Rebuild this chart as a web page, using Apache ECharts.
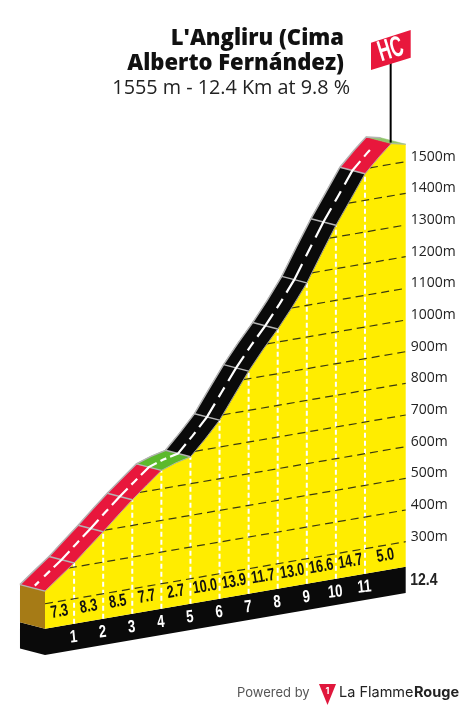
<!DOCTYPE html>
<html><head><meta charset="utf-8">
<style>html,body{margin:0;padding:0;background:#fff}#c{width:465px;height:710px}</style>
<script src="https://cdn.jsdelivr.net/npm/echarts@6/dist/echarts.min.js"></script>
</head><body><div id="c"></div>
<script>
const titleText = "L'Angliru (Cima\nAlberto Fernández)";
const subtitleText = "1555 m - 12.4 Km at 9.8 %";
const profileKm  = [0,0.5,1,1.5,2,2.5,3,3.5,4,4.5,5,5.5,6,6.5,7,7.5,8,8.5,9,9.5,10,10.5,11,11.5,11.9,12.4];
const profileAlt = [340,377,413,455,496,539,581,620,658,674,685,733,785,855,924,985,1041,1103,1171,1255,1337,1410,1484,1531,1565,1555];
const baseAlt = 221;
const footAlt = 138;
const sectionStart = [0,1,2,3,4,5,6,7,8,9,10,11,11.9];
const sectionEnd   = [1,2,3,4,5,6,7,8,9,10,11,11.9,12.4];
const sectionColor = ['#e8173c','#e8173c','#e8173c','#e8173c','#5cb92c','#0a0a0a','#0a0a0a','#0a0a0a','#0a0a0a','#0a0a0a','#0a0a0a','#e8173c','#8fc46a'];
const kmMarks = [1,2,3,4,5,6,7,8,9,10,11];
const gradientKm = [0.5,1.5,2.5,3.5,4.5,5.5,6.5,7.5,8.5,9.5,10.5,11.7];
const gradients = ['7.3','8.3','8.5','7.7','2.7','10.0','13.9','11.7','13.0','16.6','14.7','5.0'];
const altTicks = [300,400,500,600,700,800,900,1000,1100,1200,1300,1400,1500];
const totalKm = 12.4;

const SH = 15.81, DK = 0.86, DA = 20.5, COND = '"Liberation Sans",sans-serif';
function altAt(k){
  for(let i=1;i<profileKm.length;i++) if(k<=profileKm[i]){
    const t=(k-profileKm[i-1])/(profileKm[i]-profileKm[i-1]);
    return profileAlt[i-1]+t*(profileAlt[i]-profileAlt[i-1]);
  }
  return profileAlt[profileAlt.length-1];
}
function P(api,km,alt,d){ d=d||0; return api.coord([km-d*DK, alt-SH*(totalKm-km)+d*DA]); }
function range(a,b){ return [a].concat(profileKm.filter(k=>k>a&&k<b),[b]); }

function layer(n,data,fn){ return {type:'custom',name:n,silent:true,clip:false,animation:false,data:data,renderItem:fn}; }
const GRAY='#b4b4b4';
const series=[
 layer('base',[0],(p,api)=>{
   const c=[];
   c.push({type:'polygon',shape:{points:[P(api,0,baseAlt,1),P(api,0,baseAlt),P(api,0,footAlt),P(api,0,footAlt,1)]},style:{fill:'#0a0a0a'}});
   c.push({type:'polygon',shape:{points:[P(api,0,baseAlt),P(api,totalKm,baseAlt),P(api,totalKm,footAlt),P(api,0,footAlt)]},style:{fill:'#0a0a0a'}});
   c.push({type:'polygon',shape:{points:[P(api,0,profileAlt[0],1),P(api,0,profileAlt[0]),P(api,0,baseAlt),P(api,0,baseAlt,1)]},style:{fill:'#a67b16'}});
   return {type:'group',children:c};
 }),
 layer('face',[0],(p,api)=>{
   const pts=profileKm.map((k,i)=>P(api,k,profileAlt[i]));
   pts.push(P(api,totalKm,baseAlt),P(api,0,baseAlt));
   return {type:'polygon',shape:{points:pts},style:{fill:'#ffed00'}};
 }),
 layer('kmLines',kmMarks,(p,api)=>{
   const k=kmMarks[p.dataIndex],a=P(api,k,baseAlt),b=P(api,k,altAt(k));
   return {type:'line',shape:{x1:a[0],y1:a[1],x2:b[0],y2:b[1]},style:{stroke:'#fff',lineWidth:2,lineDash:[5,3]}};
 }),
 layer('grid',altTicks,(p,api)=>{
   const L=altTicks[p.dataIndex]; let s=0;
   for(let i=1;i<profileKm.length;i++){ if(profileAlt[i-1]<=L&&profileAlt[i]>L){ s=profileKm[i-1]+(L-profileAlt[i-1])/(profileAlt[i]-profileAlt[i-1])*(profileKm[i]-profileKm[i-1]); break; } }
   const a=P(api,s,L),b=P(api,totalKm,L);
   return {type:'line',shape:{x1:a[0],y1:a[1],x2:b[0],y2:b[1]},style:{stroke:'#3a3a10',lineWidth:1.2,lineDash:[8,5]}};
 }),
 layer('road',sectionStart,(p,api)=>{
   const i=p.dataIndex,ks=range(sectionStart[i],sectionEnd[i]);
   const f=ks.map(k=>P(api,k,altAt(k))),b=ks.map(k=>P(api,k,altAt(k),1)).reverse();
   return {type:'polygon',shape:{points:f.concat(b)},style:{fill:sectionColor[i],stroke:sectionColor[i],lineWidth:0.5}};
 }),
 layer('edges',[0],(p,api)=>{
   const c=[];
   c.push({type:'polyline',shape:{points:profileKm.map(k=>P(api,k,altAt(k),1))},style:{stroke:GRAY,lineWidth:1.5,fill:null}});
   c.push({type:'polyline',shape:{points:profileKm.map(k=>P(api,k,altAt(k)))},style:{stroke:GRAY,lineWidth:0.8,fill:null}});
   [0].concat(kmMarks).forEach(k=>{
     const a=P(api,k,altAt(k)),b=P(api,k,altAt(k),1);
     c.push({type:'line',shape:{x1:a[0],y1:a[1],x2:b[0],y2:b[1]},style:{stroke:GRAY,lineWidth:1.5}});
   });
   return {type:'group',children:c};
 }),
 layer('centre',[0],(p,api)=>{
   const c=[];
   const dash=(u,v)=>{ const ks=range(u,v); c.push({type:'polyline',shape:{points:ks.map(k=>P(api,k,altAt(k),0.5))},style:{stroke:'#fff',lineWidth:2.2,fill:null}}); };
   kmMarks.forEach(k=>{ dash(k-0.27,k+0.27); });
   [0.5].concat(kmMarks.map(k=>k+0.5)).forEach(k=>{ if(k<11.8) dash(k-0.1,k+0.1); });
   dash(0.08,0.22);
   return {type:'group',children:c};
 }),
 layer('gradLabels',gradients,(p,api)=>{
   const i=p.dataIndex,a=P(api,gradientKm[i],baseAlt);
   return {type:'text',x:a[0],y:a[1]-14.5,rotation:0.17,scaleX:0.72,style:{text:gradients[i],align:'center',verticalAlign:'middle',fontFamily:COND,fontWeight:'bold',fontSize:17.5,fill:'#111'}};
 }),
 layer('kmLabels',kmMarks,(p,api)=>{
   const k=kmMarks[p.dataIndex],a=P(api,k,baseAlt);
   return {type:'text',x:a[0]-0.5,y:a[1]+13.5,rotation:0.1,scaleX:0.75,style:{text:String(k),align:'center',verticalAlign:'middle',fontFamily:COND,fontWeight:'bold',fontSize:17.5,fill:'#fff'}};
 }),
 layer('total',[0],(p,api)=>{
   const a=P(api,totalKm,baseAlt);
   return {type:'text',x:a[0]+4.5,y:a[1]+13.5,scaleX:0.85,style:{text:String(totalKm),align:'left',verticalAlign:'middle',fontFamily:COND,fontWeight:'bold',fontSize:16.5,fill:'#222'}};
 }),
 layer('pole',[0],(p,api)=>{
   const a=P(api,11.9,profileAlt[24]);
   return {type:'line',shape:{x1:a[0]-0.5,y1:a[1]-1,x2:a[0]-0.5,y2:63},style:{stroke:'#000',lineWidth:2}};
 })
];
const chart=echarts.init(document.getElementById('c'),null,{renderer:'canvas'});
chart.setOption({
 animation:false,backgroundColor:'#fff',
 title:[
  {text:titleText,left:344,top:26,padding:0,textAlign:'right',textStyle:{fontFamily:'"Open Sans"',fontWeight:800,fontSize:22,lineHeight:25,color:'#111'}},
  {text:subtitleText,left:350,top:77,padding:0,textAlign:'right',textStyle:{fontFamily:'"Open Sans"',fontWeight:'normal',fontSize:19.8,lineHeight:22,color:'#222'}}
 ],
 grid:{left:45,right:59.3,top:130,bottom:73.3},
 xAxis:{type:'value',min:0,max:totalKm,show:false},
 yAxis:{type:'value',position:'right',min:0,max:1600,interval:100,
  axisLine:{show:false},axisTick:{show:false},splitLine:{show:false},
  axisLabel:{margin:5,verticalAlign:'bottom',lineHeight:10,fontFamily:'"Open Sans"',fontSize:14,color:'#222',
   formatter:v=>altTicks.indexOf(v)>=0?v+'m':''}},
 series:series,
 graphic:[
  {type:'polygon',shape:{points:[[371,42.7],[410.7,30],[410.7,57.7],[371,70]]},style:{fill:'#e8173c'},z:20},
  {type:'text',x:391,y:50,rotation:0.3,scaleX:0.6,style:{text:'HC',align:'center',verticalAlign:'middle',fontFamily:COND,fontWeight:'bold',fontSize:29,fill:'#fff'},z:21},
  {type:'text',x:237,y:693,style:{text:'Powered by',align:'left',verticalAlign:'middle',fontFamily:'Inter',fontSize:13,fill:'#555'},z:21},
  {type:'polygon',shape:{points:[[319,684],[336,684],[327.5,705]]},style:{fill:'#e0173c'},z:21},
  {type:'text',x:327.5,y:691,style:{text:'1',align:'center',verticalAlign:'middle',fontFamily:'Inter',fontWeight:'bold',fontSize:9,fill:'#fff'},z:22},
  {type:'text',x:339,y:693,style:{text:'La Flamme',align:'left',verticalAlign:'middle',fontFamily:'Inter',fontSize:14.5,fill:'#222'},z:21},
  {type:'text',x:414,y:693,style:{text:'Rouge',align:'left',verticalAlign:'middle',fontFamily:'Inter',fontWeight:'bold',fontSize:14.5,fill:'#222'},z:21}
 ]
});
</script></body></html>
